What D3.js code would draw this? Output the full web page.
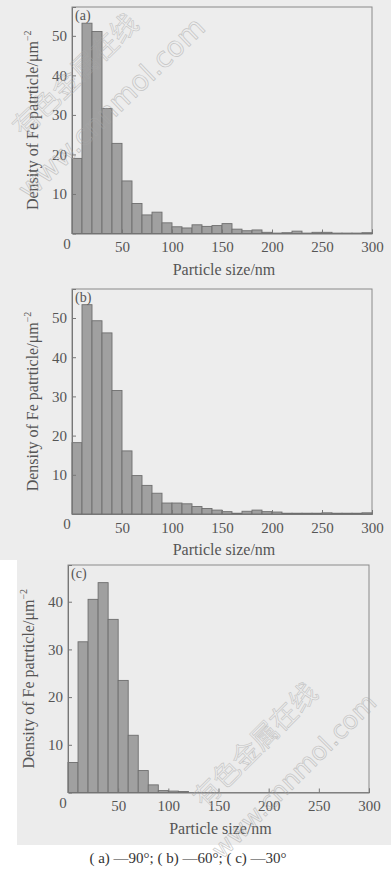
<!DOCTYPE html>
<html>
<head>
<meta charset="utf-8">
<script src="https://cdn.jsdelivr.net/npm/d3@7"></script>
<style>
  body { margin: 0; background: #fff; }
  svg { display: block; }
</style>
</head>
<body>
<div id="chart"></div>
<script>
// bin start (nm), each bin 10 nm wide
var binStart = [0, 10, 20, 30, 40, 50, 60, 70, 80, 90, 100, 110, 120, 130, 140,
                150, 160, 170, 180, 190, 200, 210, 220, 230, 240, 250, 260, 270, 280, 290];

var densityA = [19.0, 53.2, 51.1, 31.6, 22.8, 13.3, 7.6, 4.7, 5.4, 2.7, 1.7, 1.4, 2.2, 1.8, 2.0,
                2.5, 1.1, 0.7, 0.9, 0.3, 0.1, 0.2, 0.6, 0.1, 0.3, 0.3, 0.1, 0.1, 0.1, 0.2];
var densityB = [18.2, 53.4, 49.3, 46.2, 31.5, 16.1, 9.8, 7.3, 5.3, 2.8, 2.8, 2.6, 1.9, 1.4, 1.0,
                0.6, 0.2, 0.7, 1.0, 0.6, 0.5, 0.2, 0.2, 0.2, 0.2, 0.3, 0.2, 0.2, 0.2, 0.3];
var densityC = [6.3, 31.6, 40.5, 44.0, 36.3, 23.5, 12.0, 4.6, 1.6, 0.4, 0.3, 0.2, 0, 0, 0,
                0, 0, 0, 0, 0, 0, 0, 0, 0, 0, 0, 0, 0, 0, 0];

var panelNames = ["(a)", "(b)", "(c)"];
var xTicks = [50, 100, 150, 200, 250, 300];
var yTicksAB = [10, 20, 30, 40, 50];
var yTicksC = [10, 20, 30, 40];
var yMaxes = [57.3, 57.4, 47.7];
var caption = "( a) \u201490\u00b0;  ( b) \u201460\u00b0;  ( c) \u201430\u00b0";

var W = 391, H = 884;
var font = "'Liberation Serif', 'DejaVu Serif', serif";
var textCol = "#555";

var svg = d3.select("#chart").append("svg")
    .attr("width", W)
    .attr("height", H);

// scanned page background
svg.append("rect").attr("width", W).attr("height", 560).attr("fill", "#ededed");
svg.append("rect").attr("x", 17).attr("y", 560).attr("width", W - 17).attr("height", 285).attr("fill", "#ececec");

var panels = [
  {data: densityA, left: 72, right: 372, top: 7, bottom: 233.5, yTicks: yTicksAB},
  {data: densityB, left: 72, right: 372, top: 289, bottom: 514, yTicks: yTicksAB},
  {data: densityC, left: 68, right: 369, top: 565, bottom: 792.5, yTicks: yTicksC}
];

panels.forEach(function(p, i) {
  var x = d3.scaleLinear().domain([0, 300]).range([p.left, p.right]);
  var y = d3.scaleLinear().domain([0, yMaxes[i]]).range([p.bottom, p.top]);

  var g = svg.append("g");

  g.append("rect")
    .attr("x", p.left).attr("y", p.top)
    .attr("width", p.right - p.left).attr("height", p.bottom - p.top)
    .attr("fill", "none")
    .attr("stroke", "#8a8a8a")
    .attr("stroke-width", 1);

  var bins = binStart.map(function(b, k) { return {x0: b, x1: b + 10, v: p.data[k]}; })
    .filter(function(d) { return d.v > 0; });

  g.selectAll(".bar")
    .data(bins)
    .enter().append("rect")
    .attr("x", function(d) { return x(d.x0); })
    .attr("y", function(d) { return y(d.v); })
    .attr("width", function(d) { return x(d.x1) - x(d.x0); })
    .attr("height", function(d) { return y(0) - y(d.v); })
    .attr("fill", "#a0a0a0")
    .attr("stroke", "#6e6e6e")
    .attr("stroke-width", 0.9);

  // axes with inward ticks
  var xAxis = d3.axisBottom(x).tickValues(xTicks).tickSize(-4).tickPadding(8);
  var gx = g.append("g").attr("transform", "translate(0," + p.bottom + ")").call(xAxis);
  var yAxis = d3.axisLeft(y).tickValues(p.yTicks).tickSize(-4).tickPadding(5);
  var gy = g.append("g").attr("transform", "translate(" + p.left + ",0)").call(yAxis);

  [gx, gy].forEach(function(a) {
    a.select(".domain").attr("stroke", "#777");
    a.selectAll(".tick line").attr("stroke", "#777");
    a.selectAll(".tick text")
      .attr("font-family", font)
      .attr("font-size", "15px")
      .attr("fill", textCol);
  });

  g.append("text")
    .attr("x", p.left - 5)
    .attr("y", p.bottom + 15)
    .attr("text-anchor", "middle")
    .attr("font-family", font)
    .attr("font-size", "15px")
    .attr("fill", textCol)
    .text("0");

  g.append("text")
    .attr("x", p.left + 3)
    .attr("y", p.top + 13)
    .attr("font-family", font)
    .attr("font-size", "14px")
    .attr("fill", textCol)
    .text(panelNames[i]);

  g.append("text")
    .attr("x", (p.left + p.right) / 2 + 2)
    .attr("y", p.bottom + 41)
    .attr("text-anchor", "middle")
    .attr("font-family", font)
    .attr("font-size", "16px")
    .attr("fill", textCol)
    .text("Particle size/nm");

  var yl = g.append("text")
    .attr("transform", "translate(" + (p.left - 34) + "," + ((p.top + p.bottom) / 2) + ") rotate(-90)")
    .attr("text-anchor", "middle")
    .attr("font-family", font)
    .attr("font-size", "16px")
    .attr("fill", textCol);
  yl.append("tspan").text("Density of Fe patrticle/\u03bcm");
  yl.append("tspan").attr("dy", -7).attr("font-size", "10px").text("\u22122");
});

svg.append("text")
  .attr("x", 188)
  .attr("y", 863)
  .attr("text-anchor", "middle")
  .attr("font-family", font)
  .attr("font-size", "15px")
  .attr("fill", "#333")
  .text(caption);

// site watermarks
var marks = [
  {cn: [82, 82], url: [118, 115], angle: -44, size: 28},
  {cn: [262, 752], url: [300, 782], angle: -45, size: 25}
];
marks.forEach(function(m) {
  svg.append("text")
    .attr("transform", "translate(" + m.cn[0] + "," + m.cn[1] + ") rotate(" + m.angle + ")")
    .attr("text-anchor", "middle")
    .attr("font-family", "'Noto Sans CJK SC', sans-serif")
    .attr("font-size", "27px")
    .attr("fill", "none")
    .attr("stroke", "#a8a8a8")
    .attr("stroke-width", 0.6)
    .attr("opacity", 0.6)
    .text("有色金属在线");
  svg.append("text")
    .attr("transform", "translate(" + m.url[0] + "," + m.url[1] + ") rotate(" + m.angle + ")")
    .attr("text-anchor", "middle")
    .attr("font-family", "'DejaVu Sans', sans-serif")
    .attr("font-size", m.size + "px")
    .attr("fill", "none")
    .attr("stroke", "#a8a8a8")
    .attr("stroke-width", 0.7)
    .attr("opacity", 0.6)
    .text("www.cnnmol.com");
});
</script>
</body>
</html>
